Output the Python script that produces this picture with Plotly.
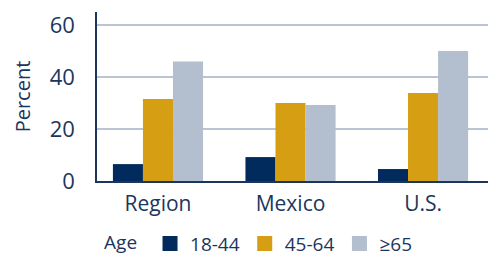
import plotly.graph_objects as go

categories = ["Region", "Mexico", "U.S."]
age_groups = ["18-44", "45-64", "≥65"]
values_18_44 = [6.5, 9.2, 4.6]
values_45_64 = [31.5, 30.0, 33.8]
values_65_plus = [46.0, 29.2, 50.0]
colors = ["#002B5C", "#D69E12", "#B3BECE"]
y_ticks = [0, 20, 40, 60]

text_color = "#1B365D"

fig = go.Figure()
for name, vals, col in zip(age_groups, [values_18_44, values_45_64, values_65_plus], colors):
    fig.add_trace(go.Bar(x=categories, y=vals, name=name, showlegend=False,
                         marker=dict(color=col, line=dict(width=0))))
for name, col in zip(age_groups, colors):
    fig.add_trace(go.Scatter(x=[None], y=[None], mode="markers", name=name,
                             marker=dict(symbol="square", size=15, color=col)))

# page body has an 8px margin, so the figure is sized and offset accordingly
fig.update_layout(
    width=488, height=249,
    margin=dict(l=89, r=8, t=4, b=76, autoexpand=False),
    barmode="group", bargap=0.32, bargroupgap=0,
    plot_bgcolor="white", paper_bgcolor="white",
    font=dict(family="Open Sans", size=20, color=text_color),
    showlegend=True,
    legend=dict(orientation="h", x=0.013, xanchor="left", y=-0.37, yanchor="middle",
                title=dict(text="Age ", font=dict(size=19)),
                font=dict(size=19), itemwidth=30, traceorder="normal"),
)
fig.update_xaxes(range=[-0.46, 2.49], showline=True, linecolor="#1B365D", linewidth=2, ticks="",
                 automargin=False, tickfont=dict(size=21), showgrid=False, ticklabelstandoff=3)
fig.update_yaxes(range=[0, 65], tickvals=y_ticks, showline=True, linecolor="#1B365D", linewidth=1.5,
                 showgrid=True, gridcolor="#BAC5D3", gridwidth=2, zeroline=False, automargin=False,
                 ticks="", ticklabelstandoff=16, tickfont=dict(size=22),
                 title=dict(text="Percent", font=dict(size=20), standoff=14))

fig.write_html("out.html")
